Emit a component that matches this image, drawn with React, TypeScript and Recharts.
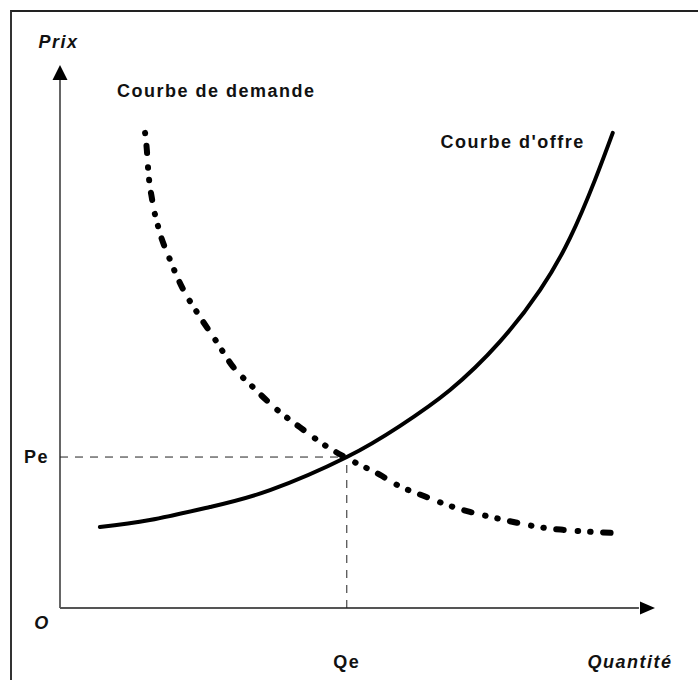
import { LineChart, Line, XAxis, YAxis, ReferenceLine, ReferenceDot } from "recharts";

const FONT = "'Liberation Sans', Arial, Helvetica, sans-serif";

// ========================================
// DATA (unités du graphique : 0..100 sur chaque axe)
// ========================================

const supplyQuantity = [6.7, 15.1, 25.2, 35.3, 48.2, 57.1, 65.5, 73.9, 80.7, 85.7, 89.9, 92.9];
const supplyPrice = [14.9, 16.2, 18.6, 21.7, 27.8, 33.5, 40.1, 49.0, 58.6, 68.1, 78.8, 87.5];

const demandQuantity = [
  14.3, 14.6, 14.8, 15.5, 16.5, 18.5, 20.5, 23.0, 26.1, 29.1, 32.4, 36.5, 40.3, 44.9, 48.2, 53.8, 56.6, 61.7,
  66.1, 68.9, 73.9, 76.8, 81.8, 84.5, 89.6, 93.6,
];
const demandPrice = [
  87.5, 84.3, 81.0, 75.1, 70.2, 64.1, 59.1, 54.5, 49.4, 44.4, 40.7, 36.5, 33.3, 29.7, 27.6, 24.5, 22.7, 20.4,
  18.6, 17.7, 16.4, 15.7, 14.7, 14.4, 14.0, 13.8,
];

const equilibriumQuantity = 48.2;
const equilibriumPrice = 27.8;

const axisMax = 100;
const axisLineEnd = 97.3; // where the arrow head starts

const curveTitles = ["Courbe de demande", "Courbe d'offre"];
const axisLabels = { origin: "O", price: "Prix", quantity: "Quantité", qe: "Qe", pe: "Pe" };

const supplyData = supplyQuantity.map((q, i) => ({ q, p: supplyPrice[i] }));
const demandData = demandQuantity.map((q, i) => ({ q, p: demandPrice[i] }));

const textStyle = {
  fontFamily: FONT,
  fontSize: 18,
  fontWeight: "bold" as const,
  letterSpacing: 1.5,
  fill: "#111",
};

// ========================================
// SHAPES
// ========================================

function PriceArrow({ cx, cy }: any) {
  return (
    <g>
      <polygon points={`${cx},${cy} ${cx - 7.5},${cy + 15} ${cx + 7.5},${cy + 15}`} fill="#000" />
      <text x={cx - 1.5} y={cy - 17} textAnchor="middle" fontStyle="italic" {...textStyle}>
        {axisLabels.price}
      </text>
    </g>
  );
}

function QuantityArrow({ cx, cy }: any) {
  return (
    <g>
      <polygon points={`${cx},${cy} ${cx - 15},${cy - 6.5} ${cx - 15},${cy + 6.5}`} fill="#000" />
      <text x={cx - 25} y={cy + 60} textAnchor="middle" fontStyle="italic" {...textStyle}>
        {axisLabels.quantity}
      </text>
    </g>
  );
}

function OriginLabel({ cx, cy }: any) {
  return (
    <text x={cx - 18} y={cy + 21} textAnchor="middle" fontStyle="italic" {...textStyle}>
      {axisLabels.origin}
    </text>
  );
}

function QeLabel({ cx, cy }: any) {
  return (
    <text x={cx} y={cy + 60} textAnchor="middle" {...textStyle}>
      {axisLabels.qe}
    </text>
  );
}

function PeLabel({ cx, cy }: any) {
  return (
    <text x={cx - 11} y={cy + 6} textAnchor="end" {...textStyle}>
      {axisLabels.pe}
    </text>
  );
}

function DemandTitle({ cx, cy }: any) {
  return (
    <text x={cx - 28} y={cy - 36} textAnchor="start" {...textStyle}>
      {curveTitles[0]}
    </text>
  );
}

function SupplyTitle({ cx, cy }: any) {
  return (
    <text x={cx - 28} y={cy + 15} textAnchor="end" {...textStyle}>
      {curveTitles[1]}
    </text>
  );
}

// ========================================
// CHART
// ========================================

export default function App() {
  const firstDemand = demandData[0];
  const lastSupply = supplyData[supplyData.length - 1];

  return (
    <div style={{ position: "relative", width: 698, height: 680, overflow: "hidden", background: "#fff" }}>
      <style>{"body{margin:0}"}</style>
      {/* cadre */}
      <div
        style={{
          position: "absolute",
          left: 10,
          top: 10,
          width: 760,
          height: 760,
          borderTop: "2px solid #222",
          borderLeft: "2px solid #333",
        }}
      />
      <div style={{ position: "absolute", left: 0, top: 0 }}>
        <LineChart width={698} height={680} margin={{ top: 65, right: 43, bottom: 72, left: 60 }}>
          <XAxis hide type="number" dataKey="q" domain={[0, axisMax]} allowDataOverflow />
          <YAxis hide type="number" dataKey="p" domain={[0, axisMax]} allowDataOverflow />

          {/* axes */}
          <ReferenceLine
            segment={[{ x: 0, y: 0 }, { x: 0, y: axisLineEnd }]}
            stroke="#555"
            strokeWidth={1.8}
            ifOverflow="visible"
          />
          <ReferenceLine
            segment={[{ x: 0, y: 0 }, { x: axisLineEnd, y: 0 }]}
            stroke="#555"
            strokeWidth={1.8}
            ifOverflow="visible"
          />

          {/* équilibre */}
          <ReferenceLine
            segment={[{ x: 0, y: equilibriumPrice }, { x: equilibriumQuantity, y: equilibriumPrice }]}
            stroke="#222"
            strokeWidth={1}
            strokeDasharray="8 7"
            ifOverflow="visible"
          />
          <ReferenceLine
            segment={[{ x: equilibriumQuantity, y: 0 }, { x: equilibriumQuantity, y: equilibriumPrice }]}
            stroke="#222"
            strokeWidth={1}
            strokeDasharray="8 7"
            ifOverflow="visible"
          />

          <Line
            data={supplyData}
            dataKey="p"
            type="natural"
            stroke="#000"
            strokeWidth={4}
            strokeLinecap="round"
            dot={false}
            activeDot={false}
            isAnimationActive={false}
          />
          <Line
            data={demandData}
            dataKey="p"
            type="monotone"
            stroke="#000"
            strokeWidth={6}
            strokeLinecap="round"
            strokeDasharray="0.5 12.5 7.5 14 0.5 12"
            dot={false}
            activeDot={false}
            isAnimationActive={false}
          />

          <ReferenceDot x={0} y={axisMax} ifOverflow="visible" shape={PriceArrow} />
          <ReferenceDot x={axisMax} y={0} ifOverflow="visible" shape={QuantityArrow} />
          <ReferenceDot x={0} y={0} ifOverflow="visible" shape={OriginLabel} />
          <ReferenceDot x={equilibriumQuantity} y={0} ifOverflow="visible" shape={QeLabel} />
          <ReferenceDot x={0} y={equilibriumPrice} ifOverflow="visible" shape={PeLabel} />
          <ReferenceDot x={firstDemand.q} y={firstDemand.p} ifOverflow="visible" shape={DemandTitle} />
          <ReferenceDot x={lastSupply.q} y={lastSupply.p} ifOverflow="visible" shape={SupplyTitle} />
        </LineChart>
      </div>
    </div>
  );
}
